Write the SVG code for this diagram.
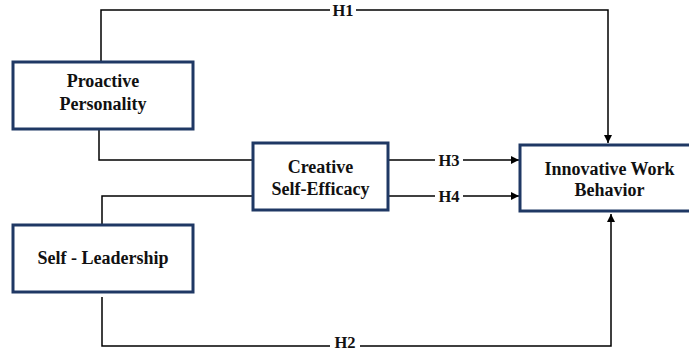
<svg xmlns="http://www.w3.org/2000/svg" width="689" height="352" viewBox="0 0 689 352">
<defs>
<marker id="arr" viewBox="0 0 10 10" refX="10" refY="5" markerWidth="8" markerHeight="8" markerUnits="userSpaceOnUse" orient="auto">
<path d="M0,0 L10,5 L0,10 Z" fill="#000"/>
</marker>
<style>
.box{fill:#fff;stroke:#1f3864;stroke-width:3}
text{font-family:'Liberation Serif','DejaVu Serif','Times New Roman',serif;font-weight:bold;text-anchor:middle;fill:#111}
.t{font-size:18px}
.lbl{font-size:16.5px}
.c{fill:none;stroke:#000;stroke-width:1.5}
</style>
</defs>
<rect width="689" height="352" fill="#fff"/>
<g id="connectors">
<path class="c" d="M101,61 V10 H608 V143" marker-end="url(#arr)"/>
<path class="c" d="M102,297 V346 H611 V214" marker-end="url(#arr)"/>
<path class="c" d="M389,160 H519" marker-end="url(#arr)"/>
<path class="c" d="M389,196 H519" marker-end="url(#arr)"/>
<path class="c" d="M99,129 V160 H253"/>
<path class="c" d="M102,225 V196 H253"/>
<rect x="330" y="2" width="26" height="16" fill="#fff"/>
<text class="lbl" x="343" y="16">H1</text>
<rect x="330" y="336" width="30" height="16" fill="#fff"/>
<text class="lbl" x="345" y="348">H2</text>
<rect x="435" y="152" width="28" height="16" fill="#fff"/>
<text class="lbl" x="449" y="166">H3</text>
<rect x="435" y="188" width="28" height="16" fill="#fff"/>
<text class="lbl" x="449" y="202">H4</text>
</g>
<g id="proactive">
<rect class="box" x="13" y="62" width="180" height="67"/>
<text class="t" x="103" y="87">Proactive</text>
<text class="t" x="103" y="110">Personality</text>
</g>
<g id="self-leadership">
<rect class="box" x="13" y="225" width="180" height="67"/>
<text class="t" x="103" y="264">Self - Leadership</text>
</g>
<g id="creative">
<rect class="box" x="253" y="143" width="135" height="67"/>
<text class="t" x="320.5" y="173">Creative</text>
<text class="t" x="320.5" y="195">Self-Efficacy</text>
</g>
<g id="innovative">
<rect class="box" x="520" y="145" width="180" height="66"/>
<text class="t" x="609.5" y="175">Innovative Work</text>
<text class="t" x="609.5" y="196">Behavior</text>
</g>
</svg>
